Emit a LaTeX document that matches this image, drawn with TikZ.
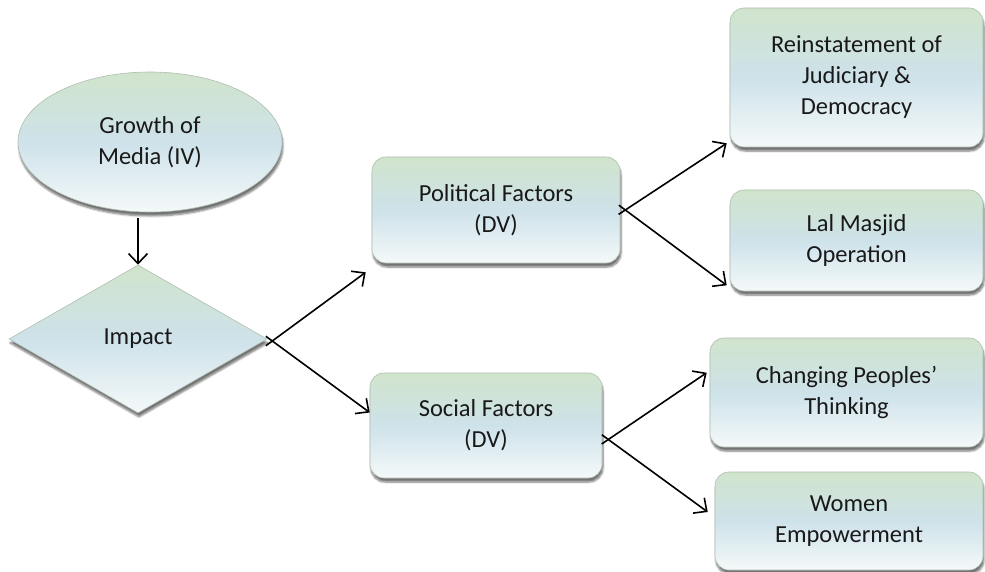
\documentclass[tikz,border=0pt]{standalone}
\usepackage{fontspec}
\setmainfont{Carlito}
\usetikzlibrary{shapes.geometric,arrows.meta,shadows.blur,calc}
\definecolor{gtop}{RGB}{208,228,204}
\definecolor{gmid}{RGB}{206,226,234}
\definecolor{gbot}{RGB}{244,249,249}
\definecolor{edgec}{RGB}{175,190,175}
\definecolor{txt}{RGB}{25,25,25}
\begin{document}
\begin{tikzpicture}[x=1pt,y=-1pt,
  glossy/.style={draw=edgec, line width=0.6pt, top color=gtop, bottom color=gbot, middle color=gmid,
    blur shadow={shadow xshift=1pt, shadow yshift=-4pt, shadow blur steps=6, shadow opacity=55},
    font=\fontsize{24.5}{31}\selectfont, text=txt, align=center, inner sep=0pt},
  box/.style={glossy, rectangle, rounded corners=14pt},
  tip/.style={-{Straight Barb[length=10pt,width=19pt]}},
  conn/.style={line width=1.6pt, shorten <=-8pt, tip},
]
\useasboundingbox (0,0) rectangle (985,572);

\node[glossy, ellipse, minimum width=264pt, minimum height=140pt] (ell) at (150,142) {Growth of\\Media (IV)};
\node[glossy, diamond, minimum width=258pt, minimum height=148pt] (dia) at (138,339) {Impact};

\node[box, minimum width=248pt, minimum height=106pt] (pol) at (496,210) {Political Factors\\(DV)};
\node[box, minimum width=232pt, minimum height=105pt] (soc) at (486,425.5) {Social Factors\\(DV)};

\node[box, minimum width=253pt, minimum height=139pt] (rein) at (856.5,77.5) {Reinstatement of\\Judiciary \&\\Democracy};
\node[box, minimum width=253pt, minimum height=101pt] (lal) at (856.5,240.5) {Lal Masjid\\Operation};
\node[box, minimum width=273pt, minimum height=109pt] (chg) at (846.5,392.5) {Changing Peoples’\\Thinking};
\node[box, minimum width=268pt, minimum height=98pt] (wom) at (849,521) {Women\\Empowerment};

\draw[line width=1.6pt, tip] ($(ell.south -| dia.north)+(0,6)$) -- (dia.north);

\draw[conn] ($(dia.east)+(5,2)$) -- ($(pol.south west)+(-6,9)$);
\draw[conn] ($(dia.east)+(5,2)$) -- ($(soc.west)+(0,-13)$);

\draw[conn] ($(pol.east)+(5,0)$) -- ($(rein.south west)+(-3,-4)$);
\draw[conn] ($(pol.east)+(5,0)$) -- ($(lal.south west)+(-3,-6)$);

\draw[conn] ($(soc.east)+(6,14)$) -- ($(chg.north west)+(-3,35)$);
\draw[conn] ($(soc.east)+(6,14)$) -- ($(wom.west)+(-7,-9)$);
\end{tikzpicture}
\end{document}
